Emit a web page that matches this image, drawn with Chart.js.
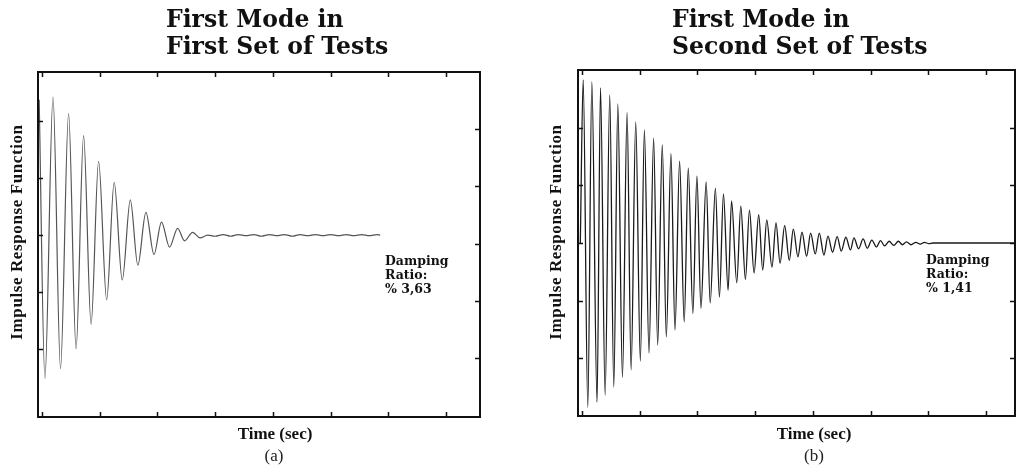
<!DOCTYPE html>
<html>
<head>
<meta charset="utf-8">
<script src="https://cdn.jsdelivr.net/npm/chart.js@4.4.1/dist/chart.umd.min.js"></script>
<style>
  html, body { margin: 0; padding: 0; background: #fff; }
  #page { position: relative; width: 1017px; height: 469px; overflow: hidden; }
  canvas { position: absolute; top: 0; }
  #leftChart { left: 0; }
  #rightChart { left: 517px; }
  #labels { position: absolute; left: 0; top: 0; }
  .title { font-family: "DejaVu Serif", serif; font-weight: bold; font-size: 23.5px; fill: #111; }
  .axis { font-family: "Liberation Serif", serif; font-weight: bold; font-size: 17px; fill: #111; }
  .sub { font-family: "Liberation Serif", serif; font-size: 17px; fill: #222; }
  .note { font-family: "DejaVu Serif", serif; font-weight: bold; font-size: 12.5px; fill: #111; }
</style>
</head>
<body>
<div id="page">
  <canvas id="leftChart" width="500" height="469"></canvas>
  <canvas id="rightChart" width="500" height="469"></canvas>
  <svg id="labels" width="1017" height="469">
    <text class="title" x="166" y="27">First Mode in</text>
    <text class="title" x="166" y="54">First Set of Tests</text>
    <text class="title" x="672" y="27">First Mode in</text>
    <text class="title" x="672" y="54">Second Set of Tests</text>

    <text class="axis" transform="translate(22,232) rotate(-90)" text-anchor="middle" letter-spacing="0.6">Impulse Response Function</text>
    <text class="axis" transform="translate(561,232) rotate(-90)" text-anchor="middle" letter-spacing="0.6">Impulse Response Function</text>

    <text class="axis" x="275" y="439" text-anchor="middle">Time (sec)</text>
    <text class="axis" x="814" y="439" text-anchor="middle">Time (sec)</text>
    <text class="sub" x="274" y="461" text-anchor="middle">(a)</text>
    <text class="sub" x="814" y="461" text-anchor="middle">(b)</text>

    <text class="note" x="385" y="265">Damping</text>
    <text class="note" x="385" y="279">Ratio:</text>
    <text class="note" x="385" y="293">% 3,63</text>
    <text class="note" x="926" y="264">Damping</text>
    <text class="note" x="926" y="278">Ratio:</text>
    <text class="note" x="926" y="292">% 1,41</text>
  </svg>
</div>
<script>
// (a) first set of tests: peaks and troughs
const leftTime = [-0.05, 0.05, 0.19, 0.32, 0.46, 0.59, 0.72, 0.85, 0.98, 1.12, 1.25, 1.39,
  1.53, 1.66, 1.80, 1.94, 2.07, 2.21, 2.35, 2.47, 2.61, 2.74, 2.87,
  3.00, 3.14, 3.27, 3.40, 3.54, 3.67, 3.80, 3.94, 4.07, 4.20, 4.34, 4.47,
  4.60, 4.74, 4.87, 5.00, 5.14, 5.27, 5.40, 5.54, 5.67, 5.81, 5.86];
const leftResponse = [2.38, -2.52, 2.43, -2.35, 2.14, -2.00, 1.75, -1.57, 1.30, -1.14, 0.93, -0.79,
  0.62, -0.53, 0.40, -0.34, 0.23, -0.21, 0.12, -0.10, 0.05, -0.05, 0.00,
  -0.02, 0.01, -0.02, 0.01, -0.01, 0.01, -0.02, 0.01, -0.01, 0.01, -0.02, 0.01,
  -0.01, 0.01, -0.01, 0.01, -0.01, 0.01, -0.01, 0.01, -0.01, 0.01, 0.00];

// (b) second set of tests
const rightTime = [-0.03,
  0.02, 0.10, 0.17, 0.26, 0.32, 0.40, 0.48, 0.55, 0.62, 0.70,
  0.78, 0.85, 0.93, 1.01, 1.08, 1.16, 1.24, 1.31, 1.39, 1.46,
  1.54, 1.61, 1.69, 1.77, 1.84, 1.92, 1.99, 2.06, 2.15, 2.22,
  2.31, 2.38, 2.45, 2.53, 2.59, 2.68, 2.75, 2.83, 2.90, 2.98,
  3.06, 3.13, 3.20, 3.29, 3.36, 3.43, 3.51, 3.59, 3.66, 3.74,
  3.81, 3.89, 3.96, 4.04, 4.11, 4.19, 4.26, 4.34, 4.42, 4.49,
  4.57, 4.65, 4.71, 4.79, 4.87, 4.94, 5.02, 5.10, 5.17, 5.24,
  5.32, 5.40, 5.48, 5.55, 5.62, 5.70, 5.78, 5.86, 5.93, 6.01,
  6.08, 7.50];
const rightResponse = [0.00,
  2.83, -2.85, 2.80, -2.76, 2.69, -2.64, 2.57, -2.50, 2.41, -2.33,
  2.26, -2.20, 2.10, -2.05, 1.96, -1.91, 1.82, -1.77, 1.70, -1.63,
  1.55, -1.51, 1.42, -1.37, 1.30, -1.22, 1.16, -1.13, 1.06, -1.04,
  0.95, -0.94, 0.85, -0.82, 0.73, -0.69, 0.64, -0.63, 0.57, -0.52,
  0.49, -0.47, 0.40, -0.42, 0.35, -0.35, 0.30, -0.30, 0.24, -0.24,
  0.19, -0.23, 0.17, -0.19, 0.17, -0.21, 0.12, -0.16, 0.11, -0.14,
  0.10, -0.12, 0.09, -0.10, 0.07, -0.09, 0.05, -0.07, 0.04, -0.05,
  0.03, -0.04, 0.03, -0.03, 0.02, -0.03, 0.01, -0.02, 0.01, -0.01,
  0.00, 0.00];

const timeTicks = [0, 1, 2, 3, 4, 5, 6, 7];
const responseTicks = [-2, -1, 0, 1, 2];

// frame + small inward tick marks like the original plots
const frameTicks = {
  id: 'frameTicks',
  afterDraw(chart) {
    const ctx = chart.ctx;
    const a = chart.chartArea;
    const len = 5;
    ctx.save();
    ctx.strokeStyle = '#111';
    ctx.lineWidth = 1.5;
    ctx.beginPath();
    const x = chart.scales.x;
    x.ticks.forEach(t => {
      const px = Math.round(x.getPixelForValue(t.value)) + 0.5;
      ctx.moveTo(px, a.bottom); ctx.lineTo(px, a.bottom - len);
      ctx.moveTo(px, a.top); ctx.lineTo(px, a.top + len);
    });
    const y = chart.scales.y;
    y.ticks.forEach(t => {
      const py = Math.round(y.getPixelForValue(t.value)) + 0.5;
      ctx.moveTo(a.left, py); ctx.lineTo(a.left + len, py);
    });
    const y2 = chart.scales.y2;
    y2.ticks.forEach(t => {
      const py = Math.round(y2.getPixelForValue(t.value)) + 0.5;
      ctx.moveTo(a.right, py); ctx.lineTo(a.right - len, py);
    });
    ctx.stroke();
    ctx.lineWidth = 2;
    ctx.strokeRect(a.left, a.top, a.right - a.left, a.bottom - a.top);
    ctx.restore();
  }
};

function hiddenAxis(extra) {
  return Object.assign({
    type: 'linear',
    ticks: { display: false },
    grid: { display: false, drawTicks: false },
    border: { display: false }
  }, extra);
}

function makeChart(id, times, values, opts) {
  const points = times.map((t, i) => ({ x: t, y: values[i] }));
  return new Chart(document.getElementById(id), {
    type: 'line',
    data: {
      datasets: [{
        data: points,
        borderColor: opts.color,
        borderWidth: opts.width,
        pointRadius: 0,
        fill: false,
        cubicInterpolationMode: 'monotone'
      }]
    },
    options: {
      responsive: false,
      animation: false,
      events: [],
      layout: { padding: opts.padding },
      plugins: { legend: { display: false }, tooltip: { enabled: false } },
      scales: {
        x: hiddenAxis({
          position: 'bottom', min: opts.xMin, max: opts.xMax,
          afterBuildTicks: s => { s.ticks = timeTicks.map(v => ({ value: v })); }
        }),
        y: hiddenAxis({
          position: 'left', min: opts.yMin, max: opts.yMax,
          afterBuildTicks: s => { s.ticks = responseTicks.map(v => ({ value: v })); }
        }),
        y2: hiddenAxis({
          position: 'right', min: opts.y2Min, max: opts.y2Max,
          afterBuildTicks: s => { s.ticks = responseTicks.map(v => ({ value: v })); }
        })
      }
    },
    plugins: [frameTicks]
  });
}

makeChart('leftChart', leftTime, leftResponse, {
  color: '#555', width: 1.2,
  padding: { left: 38, top: 72, right: 20, bottom: 52 },
  xMin: -0.07, xMax: 7.59,
  yMin: -3.2, yMax: 2.87,
  y2Min: -3.02, y2Max: 2.99
});

makeChart('rightChart', rightTime, rightResponse, {
  color: '#1a1a1a', width: 1.3,
  padding: { left: 61, top: 70, right: 2, bottom: 53 },
  xMin: -0.07, xMax: 7.50,
  yMin: -3, yMax: 3,
  y2Min: -3, y2Max: 3
});
</script>
</body>
</html>
